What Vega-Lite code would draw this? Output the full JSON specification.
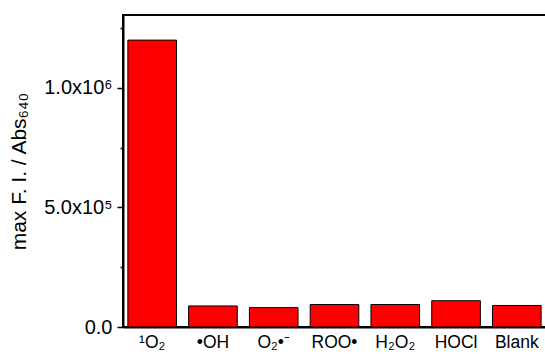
{
  "$schema": "https://vega.github.io/schema/vega-lite/v6.json",
  "autosize": "none",
  "width": 423,
  "height": 312,
  "padding": {"left": 123, "top": 15, "right": 0, "bottom": 28},
  "background": "white",
  "config": {
    "view": {"stroke": "black", "strokeWidth": 2},
    "font": "Liberation Sans"
  },
  "data": {
    "values": [
      {"species": "¹O₂", "value": 1200000},
      {"species": "•OH", "value": 88000},
      {"species": "O₂•⁻", "value": 81000},
      {"species": "ROO•", "value": 94000},
      {"species": "H₂O₂", "value": 94000},
      {"species": "HOCl", "value": 110000},
      {"species": "Blank", "value": 90000}
    ]
  },
  "mark": {"type": "bar", "fill": "#FF0000", "stroke": "black", "strokeWidth": 1},
  "encoding": {
    "x": {
      "field": "species",
      "type": "nominal",
      "sort": null,
      "scale": {"paddingInner": 0.2, "paddingOuter": 0.08},
      "axis": {
        "title": null,
        "ticks": false,
        "labelAngle": 0,
        "labelFontSize": 17.5,
        "labelColor": "black",
        "labelPadding": 6,
        "domainColor": "black",
        "domainWidth": 2
      }
    },
    "y": {
      "field": "value",
      "type": "quantitative",
      "scale": {"domain": [0, 1305000], "nice": false, "zero": true},
      "axis": {
        "title": "max F. I. / Abs₆₄₀",
        "titleFontSize": 21,
        "titleFontWeight": "normal",
        "titleColor": "black",
        "titleX": -104,
        "titleY": 156,
        "titleBaseline": "middle",
        "titleAngle": -90,
        "values": [0, 250000, 500000, 750000, 1000000, 1250000],
        "labelExpr": "datum.value == 0 ? '0.0' : datum.value == 500000 ? '5.0x10⁵' : datum.value == 1000000 ? '1.0x10⁶' : ''",
        "labelFontSize": 20,
        "labelColor": "black",
        "labelPadding": 5,
        "grid": false,
        "domainColor": "black",
        "domainWidth": 2,
        "tickColor": "black",
        "tickWidth": 1.5,
        "tickSize": {"condition": {"test": "datum.value % 500000 === 0", "value": 6}, "value": 3}
      }
    }
  }
}
